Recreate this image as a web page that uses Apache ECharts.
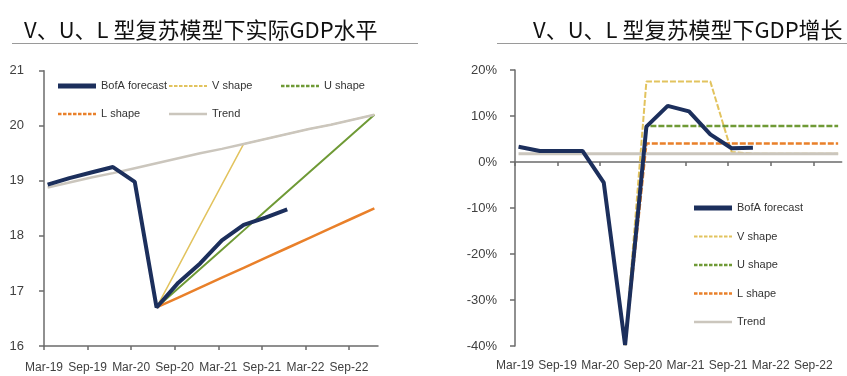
<!DOCTYPE html>
<html>
<head>
<meta charset="utf-8">
<script src="https://cdn.jsdelivr.net/npm/echarts@6/dist/echarts.min.js"></script>
<style>
  html, body { margin: 0; padding: 0; background: #fff; }
  #chart { width: 847px; height: 376px; }
</style>
</head>
<body>
<div id="chart"></div>
<script>
// quarterly observations, Mar-19 .. Dec-22
const quarters = ['Mar-19', 'Jun-19', 'Sep-19', 'Dec-19', 'Mar-20', 'Jun-20', 'Sep-20', 'Dec-20',
  'Mar-21', 'Jun-21', 'Sep-21', 'Dec-21', 'Mar-22', 'Jun-22', 'Sep-22', 'Dec-22'];
const tickLabels = ['Mar-19', 'Sep-19', 'Mar-20', 'Sep-20', 'Mar-21', 'Sep-21', 'Mar-22', 'Sep-22'];
const seriesNames = ['BofA forecast', 'V shape', 'U shape', 'L shape', 'Trend'];

// left: real GDP level
const levelBofa = [18.93, 19.05, 19.15, 19.25, 18.98, 16.70, 17.15, 17.50, 17.92, 18.20, 18.33, 18.48, null, null, null, null];
const levelV = [null, null, null, null, null, 16.70, 17.44, 18.19, 18.93, 19.67, 19.76, 19.85, 19.94, 20.02, 20.11, 20.20];
const levelU = [null, null, null, null, null, 16.70, 17.05, 17.40, 17.75, 18.10, 18.45, 18.80, 19.15, 19.50, 19.85, 20.20];
const levelL = [null, null, null, null, null, 16.70, 16.88, 17.06, 17.24, 17.42, 17.60, 17.78, 17.96, 18.14, 18.32, 18.50];
const levelTrend = [18.88, 18.97, 19.06, 19.14, 19.23, 19.32, 19.41, 19.50, 19.58, 19.67, 19.76, 19.85, 19.94, 20.02, 20.11, 20.20];

// right: GDP growth, %
const growthBofa = [3.3, 2.4, 2.4, 2.4, -4.5, -39.8, 7.7, 12.2, 11.0, 6.0, 3.0, 3.1, null, null, null, null];
const growthV = [null, null, null, null, null, -39.8, 17.5, 17.5, 17.5, 17.5, 2.2, 1.8, 1.8, 1.8, 1.8, 1.8];
const growthU = [null, null, null, null, null, -39.8, 7.8, 7.8, 7.8, 7.8, 7.8, 7.8, 7.8, 7.8, 7.8, 7.8];
const growthL = [null, null, null, null, null, -39.8, 4.0, 4.0, 4.0, 4.0, 4.0, 4.0, 4.0, 4.0, 4.0, 4.0];
const growthTrend = [1.8, 1.8, 1.8, 1.8, 1.8, 1.8, 1.8, 1.8, 1.8, 1.8, 1.8, 1.8, 1.8, 1.8, 1.8, 1.8];

const colors = ['#1c2f5c', '#e2c35e', '#6f9a36', '#e9802a', '#cbc6bd'];
const AXIS_FONT = "'Liberation Sans Narrow', 'Liberation Sans', Arial, sans-serif";
const TITLE_FONT = "'Noto Sans CJK SC', sans-serif";

// x is months after Mar-19, points sit a little into the quarter-end month
function toXY(arr) {
  return arr.map((v, i) => (v == null ? null : [i * 3 + 0.5, v])).filter(Boolean);
}
const tickValues = tickLabels.map((_, i) => i * 6);

function lineIcon(th, dashed) {
  const y0 = 6 - th / 2, y1 = 6 + th / 2;
  let p = 'path://M0,0M38,12';
  if (!dashed) {
    p += `M0,${y0}H38V${y1}H0Z`;
  } else {
    for (let x = 0; x < 38; x += 5) {
      p += `M${x},${y0}H${Math.min(x + 3.5, 38)}V${y1}H${x}Z`;
    }
  }
  return p;
}
const icons = {
  'BofA forecast': lineIcon(5, false),
  'V shape': lineIcon(2, true),
  'U shape': lineIcon(2.5, true),
  'L shape': lineIcon(2.5, true),
  'Trend': lineIcon(2.5, false)
};

function legend(names, left, top, gap) {
  return {
    orient: 'vertical', left, top, itemWidth: 38, itemHeight: 12, itemGap: gap,
    selectedMode: false,
    data: names.map(n => ({ name: n, icon: icons[n] })),
    textStyle: { fontFamily: AXIS_FONT, fontSize: 11, color: '#333' }
  };
}

const axisLineStyle = { color: '#6b6b6b', width: 1.5 };
const labelStyle = { fontFamily: AXIS_FONT, fontSize: 12, color: '#404040' };

const leftData = [levelBofa, levelV, levelU, levelL, levelTrend];
const rightData = [growthBofa, growthV, growthU, growthL, growthTrend];
const leftWidths = [4, 1.5, 2, 2.5, 2.5];
const rightWidths = [4, 2, 2.5, 2.5, 3];

const series = [];
seriesNames.forEach((name, k) => {
  series.push({
    name, type: 'line', xAxisIndex: 0, yAxisIndex: 0,
    data: toXY(leftData[k]), symbol: 'none', z: k === 0 ? 4 : 2,
    lineStyle: { color: colors[k], width: leftWidths[k] },
    itemStyle: { color: colors[k] }
  });
});
seriesNames.forEach((name, k) => {
  series.push({
    name, type: 'line', xAxisIndex: 1, yAxisIndex: 1,
    data: toXY(rightData[k]), symbol: 'none', z: k === 0 ? 4 : 2,
    lineStyle: { color: colors[k], width: rightWidths[k], type: (k >= 1 && k <= 3) ? [6, 2] : 'solid' },
    itemStyle: { color: colors[k] }
  });
});

const xLabel = v => tickLabels[Math.round(v / 6)] || '';

const chart = echarts.init(document.getElementById('chart'));
chart.setOption({
  animation: false,
  backgroundColor: '#fff',
  title: [
    { text: 'V、U、L 型复苏模型下实际GDP水平', left: 19, top: 14,
      textStyle: { fontFamily: TITLE_FONT, fontSize: 22, fontWeight: 'normal', color: '#111' } },
    { text: 'V、U、L 型复苏模型下GDP增长', left: 528, top: 14,
      textStyle: { fontFamily: TITLE_FONT, fontSize: 22, fontWeight: 'normal', color: '#111' } }
  ],
  graphic: [
    { type: 'line', shape: { x1: 12, y1: 43.5, x2: 418, y2: 43.5 }, style: { stroke: '#9a9a9a', lineWidth: 1 } },
    { type: 'line', shape: { x1: 497, y1: 43.5, x2: 847, y2: 43.5 }, style: { stroke: '#9a9a9a', lineWidth: 1 } }
  ],
  legend: [
    legend(['BofA forecast', 'L shape'], 53, 75, 16),
    legend(['V shape', 'Trend'], 164, 75, 16),
    legend(['U shape'], 276, 75, 16),
    legend(seriesNames, 689, 197, 16.5)
  ],
  grid: [
    { left: 44, top: 70.7, width: 334, height: 275.3 },
    { left: 515, top: 70, width: 326.7, height: 276 }
  ],
  xAxis: [
    { type: 'value', gridIndex: 0, min: 0, max: 46, position: 'bottom',
      axisLine: { show: true, onZero: false, lineStyle: axisLineStyle },
      axisTick: { show: true, length: 4, customValues: tickValues, lineStyle: axisLineStyle },
      axisLabel: { ...labelStyle, margin: 16, customValues: tickValues, hideOverlap: false,
        showMinLabel: true, formatter: xLabel },
      splitLine: { show: false } },
    { type: 'value', gridIndex: 1, min: 0, max: 46, position: 'top',
      axisLine: { show: true, onZero: true, lineStyle: axisLineStyle },
      axisTick: { show: true, inside: true, length: 4, customValues: tickValues, lineStyle: axisLineStyle },
      axisLabel: { show: false },
      splitLine: { show: false } },
    { type: 'value', gridIndex: 1, min: 0, max: 46, position: 'bottom',
      axisLine: { show: false, onZero: false },
      axisTick: { show: false },
      axisLabel: { ...labelStyle, margin: 14, customValues: tickValues, hideOverlap: false,
        showMinLabel: true, formatter: xLabel },
      splitLine: { show: false } }
  ],
  yAxis: [
    { type: 'value', gridIndex: 0, min: 16, max: 21, interval: 1,
      axisLine: { show: true, lineStyle: axisLineStyle },
      axisTick: { show: true, length: 5, lineStyle: axisLineStyle },
      axisLabel: { ...labelStyle, fontSize: 13, margin: 20 },
      splitLine: { show: false } },
    { type: 'value', gridIndex: 1, min: -40, max: 20, interval: 10,
      axisLine: { show: true, lineStyle: axisLineStyle },
      axisTick: { show: true, length: 5, lineStyle: axisLineStyle },
      axisLabel: { ...labelStyle, fontSize: 13, margin: 18, formatter: '{value}%' },
      splitLine: { show: false } }
  ],
  series
});
</script>
</body>
</html>
